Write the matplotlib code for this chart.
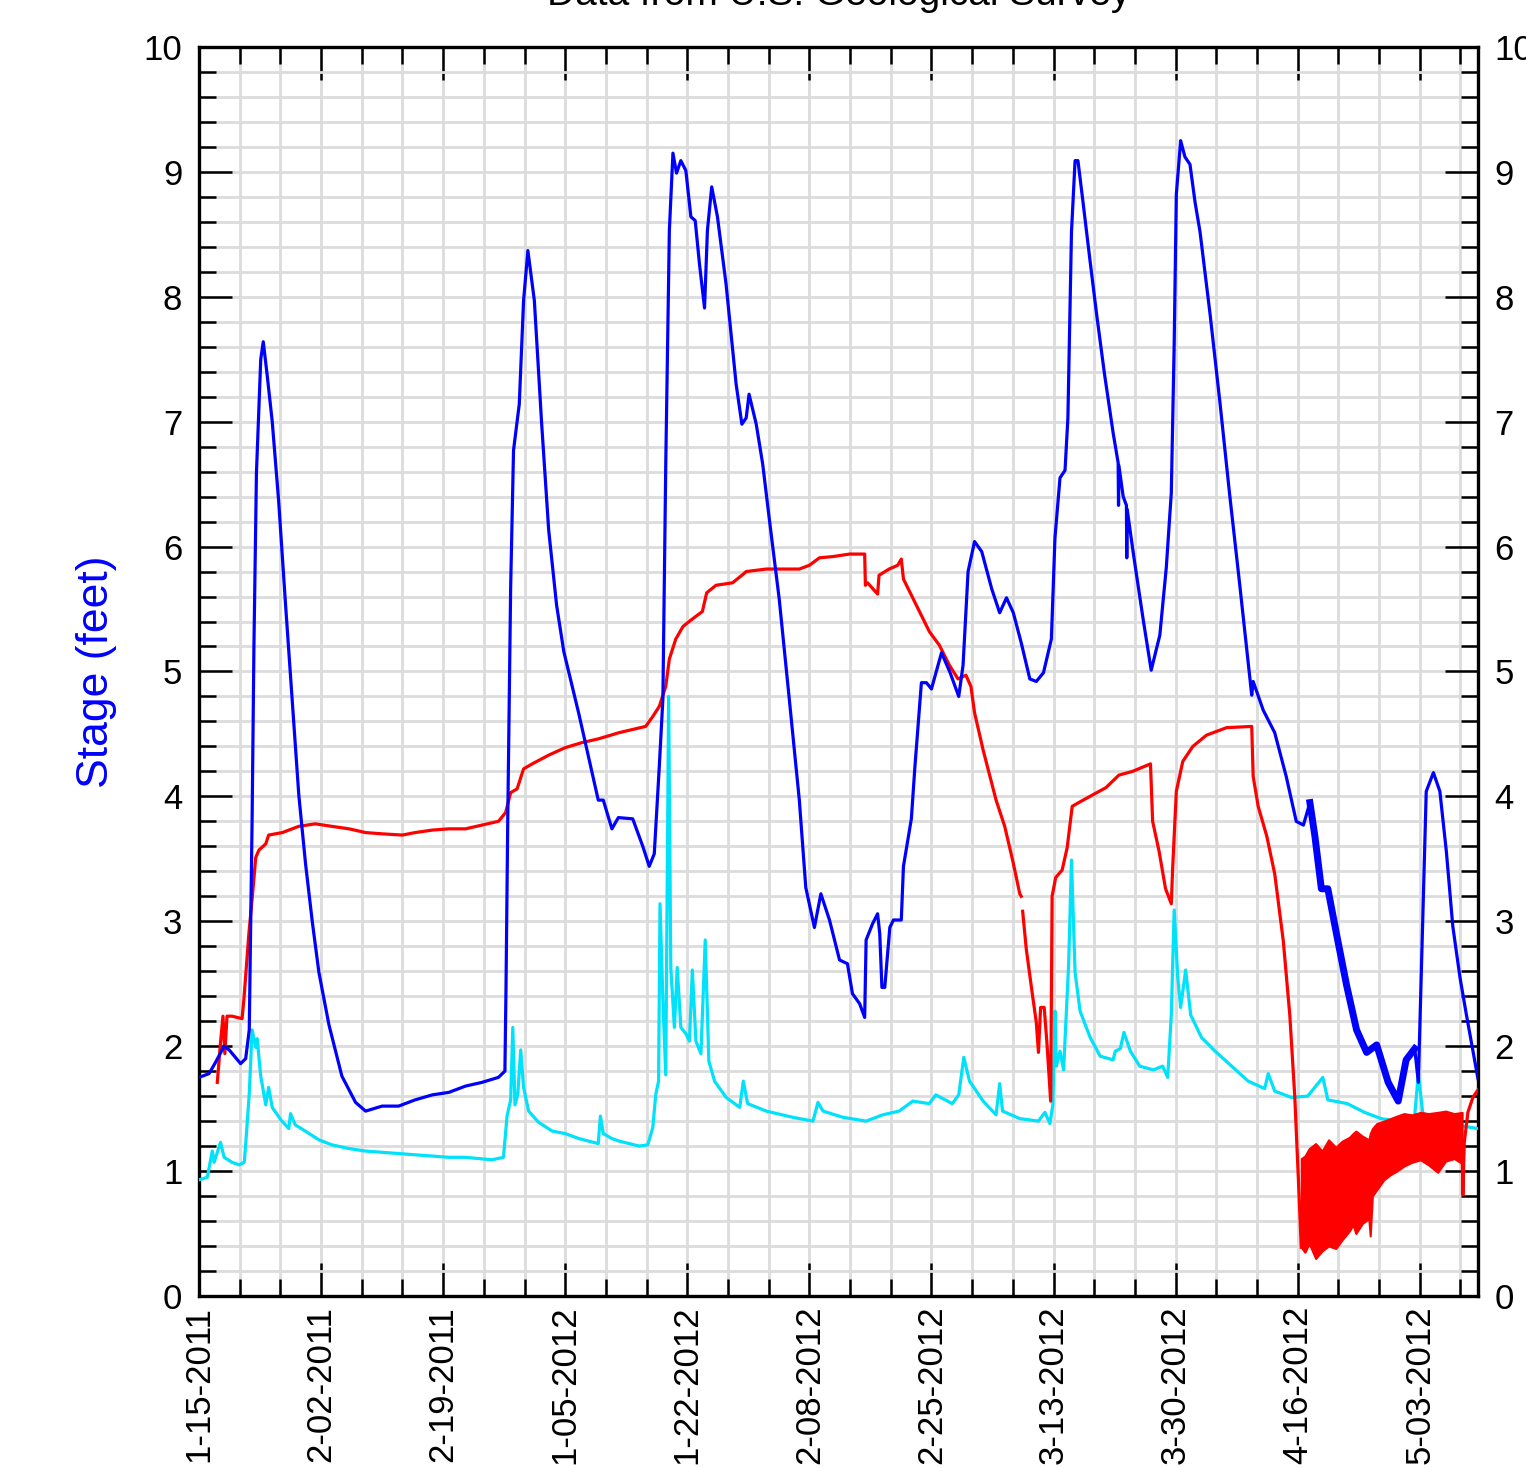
import matplotlib
matplotlib.use("Agg")
import matplotlib.pyplot as plt
import numpy as np
from matplotlib.ticker import MultipleLocator, FixedLocator

plt.rcParams['font.family'] = ['Liberation Sans', 'DejaVu Sans']

# x axis in days from the first tick, labels as printed on the chart
tick_days = [0, 17, 34, 51, 68, 85, 102, 119, 136, 153, 170]
tick_labels = ['1-15-2011', '2-02-2011', '2-19-2011', '1-05-2012', '1-22-2012',
               '2-08-2012', '2-25-2012', '3-13-2012', '3-30-2012', '4-16-2012',
               '5-03-2012']

# stage (blue)
blue_day = [0, 1.4, 2.3, 3.5, 4.2, 5.8, 6.5, 7.0, 7.4, 7.65,
            8.0, 8.6, 8.95, 9.5, 10.2, 11.1, 12.06, 13.0, 13.9, 14.84,
            15.77, 16.7, 18.1, 19.9, 21.8, 23.2, 25.5, 27.8, 30.1, 32.5,
            34.8, 37.1, 39.4, 41.7, 42.6, 42.75, 43.0, 43.4, 43.8, 44.6,
            45.2, 45.8, 46.7, 47.7, 48.7, 49.8, 50.8, 52.9, 53.8, 55.6,
            56.3, 57.5, 58.4, 60.4, 61.8, 62.7, 63.4, 64.1, 64.6, 65.0,
            65.5, 66.0, 66.5, 67.1, 67.8, 68.5, 69.1, 69.7, 70.4, 70.8,
            71.4, 72.2, 73.4, 74.8, 75.6, 76.2, 76.6, 77.6, 78.5, 79.4,
            80.8, 82.2, 83.6, 84.5, 85.7, 86.6, 87.8, 89.2, 90.3, 91.0,
            92.0, 92.7, 92.9, 93.8, 94.5, 94.8, 95.1, 95.5, 96.2, 96.7,
            97.8, 98.1, 99.2, 99.7, 100.6, 101.3, 102.0, 103.4, 104.6, 105.8,
            106.4, 107.1, 108.0, 109.0, 110.4, 111.5, 112.45, 113.4, 114.5, 115.7,
            116.6, 117.6, 118.7, 119.2, 119.9, 120.6, 121.0, 121.5, 122.0, 122.4,
            123.1, 124.1, 125.0, 126.1, 127.3, 128.0, 128.05, 128.1, 128.7, 129.15,
            129.2, 129.25, 130.1, 131.5, 132.6, 133.8, 134.7, 135.4, 135.8, 136.1,
            136.7, 137.3, 138.0, 138.7, 139.4, 140.8, 142.2, 143.5, 144.9, 146.6,
            146.8, 148.2, 149.8, 151.4, 152.8, 153.8, 154.7, 155.4, 156.3, 157.2,
            158.4, 159.8, 161.2, 162.6, 164.0, 165.6, 167.0, 168.1, 169.3, 169.8,
            170.2, 170.9, 171.9, 172.8, 173.7, 174.6, 175.6, 176.5, 178.1]
blue_ft = [1.75, 1.78, 1.87, 2.0, 1.97, 1.86, 1.90, 2.13, 3.83, 5.2,
           6.59, 7.5, 7.64, 7.37, 7.0, 6.36, 5.53, 4.75, 4.01, 3.46,
           3.0, 2.59, 2.17, 1.76, 1.55, 1.48, 1.52, 1.52, 1.57, 1.61,
           1.63, 1.68, 1.71, 1.75, 1.80, 2.45, 3.83, 5.67, 6.77, 7.14,
           7.97, 8.37, 7.97, 7.0, 6.13, 5.53, 5.16, 4.66, 4.43, 3.97,
           3.97, 3.74, 3.83, 3.82, 3.60, 3.44, 3.54, 4.24, 4.78, 6.66,
           8.53, 9.15, 8.99, 9.09, 9.01, 8.64, 8.61, 8.26, 7.91, 8.53,
           8.88, 8.64, 8.10, 7.30, 6.98, 7.03, 7.22, 6.98, 6.66, 6.23,
           5.58, 4.78, 3.97, 3.27, 2.95, 3.22, 3.01, 2.69, 2.66, 2.42,
           2.34, 2.23, 2.85, 2.98, 3.06, 2.90, 2.47, 2.47, 2.95, 3.01,
           3.01, 3.44, 3.82, 4.24, 4.91, 4.91, 4.86, 5.15, 4.99, 4.80,
           5.05, 5.80, 6.04, 5.96, 5.66, 5.47, 5.59, 5.47, 5.23, 4.94,
           4.92, 4.99, 5.26, 6.07, 6.55, 6.61, 7.03, 8.52, 9.09, 9.09,
           8.76, 8.28, 7.86, 7.38, 6.91, 6.67, 6.33, 6.65, 6.40, 6.33,
           5.91, 6.30, 5.95, 5.41, 5.01, 5.29, 5.83, 6.43, 7.62, 8.82,
           9.25, 9.12, 9.06, 8.76, 8.52, 7.86, 7.14, 6.43, 5.71, 4.81,
           4.92, 4.69, 4.51, 4.16, 3.80, 3.77, 3.95, 3.68, 3.26, 3.26,
           2.90, 2.49, 2.13, 1.95, 2.01, 1.71, 1.56, 1.89, 1.98, 1.71,
           2.55, 4.04, 4.19, 4.04, 3.56, 2.96, 2.55, 2.25, 1.74]

# red series
red_day = [2.55, 3.0, 3.34, 3.6, 3.9, 4.6, 6.0, 6.26, 6.96, 7.4,
           7.9, 8.35, 9.3, 9.7, 11.6, 13.9, 16.2, 18.5, 20.9, 23.2,
           25.5, 28.3, 30.1, 32.5, 34.8, 37.1, 39.4, 41.7, 42.7, 43.4,
           44.3, 45.2, 46.4, 48.7, 51.0, 53.3, 55.6, 58.5, 62.2, 63.2,
           64.1, 65.0, 65.5, 66.4, 67.4, 68.7, 70.1, 70.7, 72.0, 74.3,
           75.6, 76.2, 79.0, 81.3, 83.6, 85.0, 86.4, 88.3, 90.6, 92.7,
           92.8, 93.1, 94.5, 94.7, 96.1, 97.3, 97.8, 98.1, 99.9, 101.7,
           103.1, 104.5, 105.7, 106.8, 107.5, 108.0, 109.2, 111.0, 112.2, 113.3,
           114.3, 114.5, 114.6, 114.7, 115.2, 115.9, 116.6, 116.9, 117.2, 117.7,
           118.1, 118.6, 118.8, 119.3, 120.2, 120.9, 121.6, 122.5, 124.4, 126.3,
           128.1, 130.0, 132.5, 132.8, 133.7, 134.6, 135.4, 135.6, 136.1, 137.0,
           138.4, 140.3, 143.1, 146.6, 146.8, 147.5, 148.7, 149.8, 151.0, 151.9,
           152.6, 153.1, 153.5]
red_ft = [1.71, 2.03, 2.24, 1.94, 2.24, 2.24, 2.22, 2.38, 2.91, 3.18,
          3.51, 3.57, 3.62, 3.69, 3.71, 3.76, 3.78, 3.76, 3.74, 3.71,
          3.70, 3.69, 3.71, 3.73, 3.74, 3.74, 3.77, 3.80, 3.87, 4.03,
          4.06, 4.22, 4.26, 4.33, 4.39, 4.43, 4.46, 4.51, 4.56, 4.64,
          4.72, 4.88, 5.10, 5.26, 5.36, 5.42, 5.48, 5.63, 5.69, 5.71,
          5.77, 5.80, 5.82, 5.82, 5.82, 5.85, 5.91, 5.92, 5.94, 5.94,
          5.69, 5.71, 5.62, 5.77, 5.82, 5.85, 5.90, 5.74, 5.53, 5.32,
          5.21, 5.05, 4.94, 4.97, 4.88, 4.67, 4.37, 3.97, 3.76, 3.49,
          3.22, 3.20, np.nan, 3.08, 2.78, 2.48, 2.19, 1.95, 2.31, 2.31,
          2.01, 1.56, 3.20, 3.35, 3.41, 3.59, 3.92, 3.95, 4.01, 4.07,
          4.17, 4.20, 4.26, 3.80, 3.56, 3.26, 3.14, 3.44, 4.04, 4.28,
          4.40, 4.49, 4.55, 4.56, 4.16, 3.92, 3.68, 3.38, 2.84, 2.25,
          1.59, 0.93, 0.39]

# noisy red band at the end (upper / lower envelope)
band_day = [153.5, 154.0, 154.6, 155.5, 156.4, 157.3, 158.3, 159.2, 160.2, 160.7,
            161.1, 162.0, 162.9, 163.1, 163.4, 164.0, 165.0, 165.9, 166.8, 167.8,
            168.9, 170.1, 171.2, 172.5, 173.6, 174.8, 175.9]
band_hi = [1.10, 1.12, 1.18, 1.22, 1.16, 1.25, 1.19, 1.24, 1.27, 1.30,
           1.32, 1.28, 1.25, 1.30, 1.34, 1.38, 1.40, 1.42, 1.44, 1.46,
           1.45, 1.47, 1.46, 1.47, 1.48, 1.46, 1.47]
band_lo = [0.39, 0.35, 0.42, 0.30, 0.36, 0.40, 0.38, 0.45, 0.52, 0.57,
           0.50, 0.58, 0.62, 0.48, 0.80, 0.85, 0.93, 0.97, 1.00, 1.04,
           1.07, 1.09, 1.05, 0.99, 1.08, 1.10, 1.06]
tail_day = [175.9, 176.0, 176.2, 176.7, 177.4, 178.1]
tail_ft = [1.20, 0.81, 1.23, 1.47, 1.59, 1.65]

# cyan series
cyan_day = [0, 1.16, 1.85, 2.1, 3.0, 3.5, 4.6, 5.6, 6.3, 6.5,
            7.0, 7.4, 7.9, 8.1, 8.6, 9.3, 9.7, 10.2, 11.4, 12.5,
            12.75, 13.4, 14.8, 16.7, 18.5, 20.9, 23.2, 25.5, 27.8, 30.1,
            32.5, 34.8, 37.1, 40.8, 42.4, 42.9, 43.4, 43.7, 44.0, 44.4,
            44.8, 45.2, 45.9, 47.3, 49.2, 51.0, 52.9, 55.6, 55.9, 56.3,
            57.5, 58.5, 61.3, 62.5, 63.2, 63.6, 64.0, 64.2, 64.6, 65.0,
            65.4, 65.7, 66.2, 66.6, 67.1, 67.8, 68.3, 68.7, 69.2, 69.9,
            70.5, 71.0, 71.8, 73.4, 75.3, 75.8, 76.4, 79.0, 82.7, 85.5,
            86.2, 86.9, 89.7, 92.9, 95.2, 97.5, 99.4, 101.7, 102.6, 104.9,
            105.8, 106.5, 107.3, 109.2, 111.0, 111.5, 111.9, 114.3, 116.9, 117.8,
            118.5, 118.9, 119.2, 119.4, 119.9, 120.4, 121.1, 121.5, 122.0, 122.7,
            124.1, 125.5, 127.3, 127.6, 128.3, 128.8, 129.7, 131.0, 132.9, 134.2,
            134.9, 135.4, 135.8, 136.3, 136.7, 137.4, 138.1, 139.6, 141.5, 143.8,
            146.1, 148.4, 148.9, 149.8, 152.1, 154.4, 156.5, 157.2, 159.9, 162.3,
            164.6, 166.9, 169.2, 169.8, 170.4, 171.6, 173.9, 178.1]
cyan_ft = [0.93, 0.95, 1.16, 1.07, 1.23, 1.11, 1.07, 1.05, 1.07, 1.21,
           1.62, 2.13, 1.99, 2.06, 1.76, 1.53, 1.67, 1.51, 1.41, 1.34,
           1.46, 1.37, 1.32, 1.25, 1.21, 1.18, 1.16, 1.15, 1.14, 1.13,
           1.12, 1.11, 1.11, 1.09, 1.11, 1.44, 1.57, 2.15, 1.53, 1.62,
           1.97, 1.67, 1.48, 1.39, 1.32, 1.30, 1.26, 1.22, 1.44, 1.30,
           1.26, 1.24, 1.20, 1.21, 1.35, 1.61, 1.72, 3.14, 2.37, 1.77,
           4.80, 2.63, 2.15, 2.63, 2.15, 2.10, 2.04, 2.61, 2.04, 1.94,
           2.85, 1.88, 1.72, 1.59, 1.51, 1.72, 1.54, 1.48, 1.43, 1.40,
           1.55, 1.48, 1.43, 1.40, 1.45, 1.48, 1.56, 1.54, 1.61, 1.54,
           1.61, 1.91, 1.72, 1.56, 1.45, 1.70, 1.48, 1.42, 1.40, 1.47,
           1.38, 1.53, 2.28, 1.84, 1.96, 1.81, 2.65, 3.49, 2.59, 2.28,
           2.07, 1.92, 1.89, 1.96, 1.98, 2.11, 1.96, 1.84, 1.81, 1.84,
           1.75, 2.25, 3.09, 2.55, 2.31, 2.61, 2.25, 2.07, 1.96, 1.84,
           1.72, 1.66, 1.78, 1.64, 1.59, 1.60, 1.75, 1.57, 1.54, 1.47,
           1.42, 1.40, 1.38, 1.78, 1.47, 1.41, 1.38, 1.34]

fig = plt.figure(figsize=(15.26, 14.68), dpi=100)
ax = fig.add_axes([0.1304, 0.1172, 0.8381, 0.8508])

ax.plot(cyan_day, cyan_ft, color='#00e1fa', lw=2.3, zorder=3)
ax.plot(red_day, red_ft, color='#ff0000', lw=2.3, zorder=4)
ax.fill_between(band_day, band_lo, band_hi, color='#ff0000', lw=1.5, zorder=4)
ax.plot(tail_day, tail_ft, color='#ff0000', lw=2.3, zorder=4)
ax.plot(blue_day, blue_ft, color='#0000ff', lw=2.3, zorder=5)
# thick noisy stretch of the stage record
bd = np.array(blue_day)
noisy = (bd >= 154.7) & (bd <= 169.3)
ax.plot(bd[noisy], np.array(blue_ft)[noisy], color='#0000ff', lw=5,
        solid_joinstyle='round', zorder=5)

ax.set_xlim(0, 178.1)
ax.set_ylim(0, 10)
ax.xaxis.set_major_locator(FixedLocator(tick_days))
ax.set_xticklabels(tick_labels, rotation=90)
ax.xaxis.set_minor_locator(MultipleLocator(17 / 3))
ax.yaxis.set_major_locator(MultipleLocator(1))
ax.yaxis.set_minor_locator(MultipleLocator(0.2))

ax.grid(which='both', color='#dcdcdc', lw=2)
ax.set_axisbelow(True)
ax.tick_params(which='both', direction='in', top=True, right=True,
               labelright=True, width=1.8, labelsize=25, pad=12)
ax.tick_params(axis='x', which='major', pad=7)
ax.tick_params(which='major', length=24)
ax.tick_params(which='minor', length=12)
for sp in ax.spines.values():
    sp.set_linewidth(2.4)

ax.set_ylabel('Stage (feet)', color='#0000ff', fontsize=32)
ax.yaxis.set_label_coords(-0.064, 0.5)

fig.text(0.5495, 1 - 5 / 1468, 'Data from U.S. Geological Survey',
         ha='center', va='baseline', fontsize=28)

fig.savefig('out.png', dpi=100)
